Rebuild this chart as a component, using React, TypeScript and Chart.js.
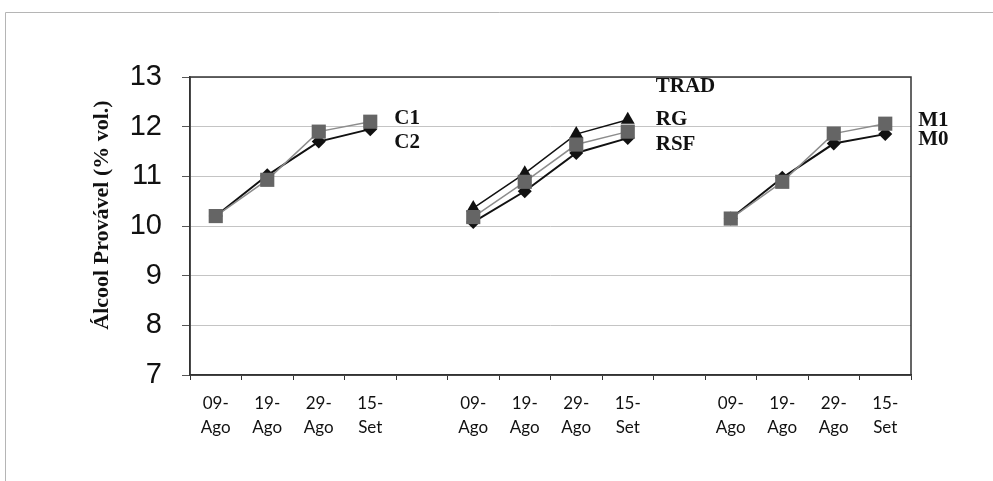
import React, { useEffect, useRef } from "react";
import { Chart, registerables } from "chart.js";

Chart.register(...registerables);

// 14 category slots: three groups of four dates separated by empty slots
const categories = [
  "09-Ago", "19-Ago", "29-Ago", "15-Set", "",
  "09-Ago", "19-Ago", "29-Ago", "15-Set", "",
  "09-Ago", "19-Ago", "29-Ago", "15-Set",
];
const groupStart = [0, 5, 10];

const yTicks = [7, 8, 9, 10, 11, 12, 13];

// Group 1
const C1 = [10.2, 10.93, 11.9, 12.1];
const C2 = [10.2, 11.02, 11.7, 11.95];
// Group 2
const TRAD = [10.36, 11.06, 11.85, 12.14];
const RG = [10.18, 10.89, 11.64, 11.9];
const RSF = [10.08, 10.7, 11.47, 11.77];
// Group 3
const M1 = [10.15, 10.89, 11.86, 12.06];
const M0 = [10.15, 10.97, 11.66, 11.85];

const yTitle = "Álcool Provável (% vol.)";

// series tags (text, group, value level for vertical placement)
const tags = [
  { text: "C1", group: 0, v: 12.17, dx: 24 },
  { text: "C2", group: 0, v: 11.67, dx: 24 },
  { text: "TRAD", group: 1, v: 12.8, dx: 28 },
  { text: "RG", group: 1, v: 12.15, dx: 28 },
  { text: "RSF", group: 1, v: 11.63, dx: 28 },
  { text: "M1", group: 2, v: 12.13, dx: 33 },
  { text: "M0", group: 2, v: 11.75, dx: 33 },
];

function place(values: number[], group: number): (number | null)[] {
  const arr: (number | null)[] = categories.map(() => null);
  values.forEach((v, i) => {
    arr[groupStart[group] + i] = v;
  });
  return arr;
}

const SQ_COLOR = "#656565";
const SQ_LINE = "#8c8c8c";
const BLACK = "#111111";

function squareSet(label: string, values: number[], group: number) {
  return {
    label,
    data: place(values, group),
    borderColor: SQ_LINE,
    borderWidth: 1.5,
    pointStyle: "rect",
    pointRadius: 10,
    pointBackgroundColor: SQ_COLOR,
    pointBorderColor: SQ_COLOR,
    pointBorderWidth: 0,
    spanGaps: false,
    order: 1,
  };
}
function diamondSet(label: string, values: number[], group: number) {
  return {
    label,
    data: place(values, group),
    borderColor: BLACK,
    borderWidth: 2,
    pointStyle: "rectRot",
    pointRadius: 7,
    pointBackgroundColor: BLACK,
    pointBorderColor: BLACK,
    pointBorderWidth: 0,
    spanGaps: false,
    order: 3,
  };
}
function triangleSet(label: string, values: number[], group: number) {
  return {
    label,
    data: place(values, group),
    borderColor: BLACK,
    borderWidth: 1.5,
    pointStyle: "triangle",
    pointRadius: 8,
    pointBackgroundColor: BLACK,
    pointBorderColor: BLACK,
    pointBorderWidth: 0,
    spanGaps: false,
    order: 2,
  };
}

const decor = {
  id: "decor",
  beforeDraw(chart: any) {
    const ctx = chart.ctx;
    ctx.save();
    ctx.fillStyle = "#ffffff";
    ctx.fillRect(0, 0, chart.width, chart.height);
    ctx.strokeStyle = "#b5b5b5";
    ctx.lineWidth = 1;
    ctx.beginPath();
    ctx.moveTo(5.5, chart.height);
    ctx.lineTo(5.5, 12.5);
    ctx.lineTo(chart.width, 12.5);
    ctx.stroke();
    ctx.restore();
  },
  afterDraw(chart: any) {
    const ctx = chart.ctx;
    const a = chart.chartArea;
    const xs = chart.scales.x;
    const ys = chart.scales.y;
    ctx.save();
    // plot frame
    ctx.strokeStyle = "#333333";
    ctx.lineWidth = 1.5;
    ctx.strokeRect(a.left, a.top, a.right - a.left, a.bottom - a.top);
    // y title
    ctx.fillStyle = "#111111";
    ctx.font = "bold 22px 'Liberation Serif', serif";
    ctx.textAlign = "center";
    ctx.textBaseline = "middle";
    ctx.translate(102, (a.top + a.bottom) / 2 - 11);
    ctx.rotate(-Math.PI / 2);
    ctx.fillText(yTitle, 0, 0);
    ctx.restore();

    ctx.save();
    ctx.fillStyle = "#111111";
    ctx.font = "bold 21px 'Liberation Serif', serif";
    ctx.textAlign = "left";
    ctx.textBaseline = "middle";
    tags.forEach((t) => {
      const x = xs.getPixelForValue(groupStart[t.group] + 3) + t.dx;
      const y = ys.getPixelForValue(t.v);
      ctx.fillText(t.text, x, y);
    });
    ctx.restore();
  },
};

export default function App() {
  const ref = useRef<HTMLCanvasElement | null>(null);
  useEffect(() => {
    if (!ref.current) return;
    const chart = new Chart(ref.current, {
      type: "line",
      data: {
        labels: categories,
        datasets: [
          squareSet("C1", C1, 0),
          diamondSet("C2", C2, 0),
          triangleSet("TRAD", TRAD, 1),
          squareSet("RG", RG, 1),
          diamondSet("RSF", RSF, 1),
          squareSet("M1", M1, 2),
          diamondSet("M0", M0, 2),
        ] as any,
      },
      options: {
        animation: false,
        responsive: false,
        devicePixelRatio: 1,
        layout: { padding: { top: 77, right: 82, left: 0, bottom: 0 } },
        plugins: {
          legend: { display: false },
          tooltip: { enabled: false },
        },
        scales: {
          x: {
            type: "category",
            offset: true,
            grid: {
              offset: true,
              drawOnChartArea: false,
              drawTicks: true,
              tickLength: 5,
              tickColor: "#333333",
            },
            border: { color: "#333333", width: 1.5 },
            ticks: {
              autoSkip: false,
              maxRotation: 0,
              padding: 11,
              color: "#111111",
              font: { family: "Lato, 'Open Sans', sans-serif", size: 17, lineHeight: 1.42 },
              callback: function (this: any, value: any, index: number) {
                const s = categories[index];
                if (!s) return "";
                const p = s.split("-");
                return [p[0] + "-", p[1]];
              },
            },
            afterFit: (scale: any) => {
              scale.height = 106;
            },
          },
          y: {
            min: yTicks[0],
            max: yTicks[yTicks.length - 1],
            afterBuildTicks: (scale: any) => {
              scale.ticks = yTicks.map((v) => ({ value: v }));
            },
            grid: {
              color: "#c4c4c4",
              lineWidth: 1,
              tickLength: 8,
              tickColor: "#555555",
            },
            border: { color: "#333333", width: 1.5 },
            ticks: {
              padding: 20,
              color: "#111111",
              font: { family: "'Liberation Sans', Arial, sans-serif", size: 29 },
            },
            afterFit: (scale: any) => {
              scale.width = 190;
            },
          },
        },
      },
      plugins: [decor],
    });
    return () => chart.destroy();
  }, []);
  return (
    <div style={{ position: "fixed", left: 0, top: 0, width: 993, height: 481, background: "#fff" }}>
      <canvas ref={ref} width={993} height={481} style={{ width: 993, height: 481, display: "block" }} />
    </div>
  );
}
